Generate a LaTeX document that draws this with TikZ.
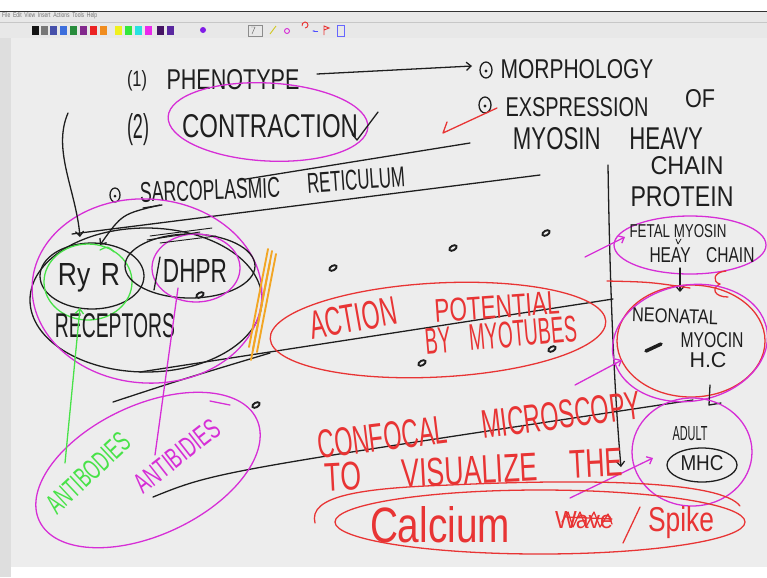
\documentclass[tikz,border=0pt]{standalone}
\usepackage{fontspec}
\setmainfont{Liberation Sans}
\usetikzlibrary{arrows.meta}

\definecolor{ink}{RGB}{30,30,30}
\definecolor{pen}{RGB}{214,46,214}
\definecolor{redpen}{RGB}{232,52,52}
\definecolor{greenpen}{RGB}{72,226,72}
\definecolor{orangepen}{RGB}{242,166,36}
\definecolor{board}{RGB}{237,237,237}
% palette swatches
\definecolor{sw1}{RGB}{20,20,20}
\definecolor{sw2}{RGB}{120,120,120}
\definecolor{sw3}{RGB}{70,80,170}
\definecolor{sw4}{RGB}{60,110,220}
\definecolor{sw5}{RGB}{40,140,60}
\definecolor{sw6}{RGB}{130,40,140}
\definecolor{sw7}{RGB}{235,35,35}
\definecolor{sw8}{RGB}{240,140,30}
\definecolor{sw9}{RGB}{240,240,30}
\definecolor{sw10}{RGB}{50,230,60}
\definecolor{sw11}{RGB}{40,225,225}
\definecolor{sw12}{RGB}{235,40,235}
\definecolor{sw13}{RGB}{70,20,100}
\definecolor{sw14}{RGB}{90,40,160}

\newlength{\pxu}
\setlength{\pxu}{0.03cm}
\newcommand{\hw}[3]{\resizebox{#1\pxu}{#2\pxu}{#3}}

\tikzset{
  hand/.style={inner sep=0pt, text=ink},
  redhand/.style={inner sep=0pt, text=redpen},
  inkline/.style={draw=ink, line width=1.1pt, line cap=round, line join=round},
  pinkline/.style={draw=pen, line width=1.1pt, line cap=round, line join=round},
  redline/.style={draw=redpen, line width=1.1pt, line cap=round, line join=round},
  greenline/.style={draw=greenpen, line width=1.1pt, line cap=round, line join=round},
  barb/.style={-{Straight Barb[length=4pt,width=7pt]}},
  speck/.style={draw=ink, line width=1.6pt},
}

\begin{document}
\begin{tikzpicture}[x=0.03cm,y=-0.03cm]
    \useasboundingbox (0,0) rectangle (767,577);

    % Window and board
    \fill[white] (0,0) rectangle (767,577);
    \fill[black!80] (0,11) rectangle (767,12);
    \fill[black!9] (0,12) rectangle (767,38);
    \draw[black!22] (0,22) -- (767,22);
    \fill[board] (11,38) rectangle (767,567);
    \fill[black!13] (0,38) rectangle (11,577);
    \node[inner sep=0pt, text=black!55, anchor=west] (menu) at (2,16) {\hw{95}{5}{File\ \ Edit\ \ View\ \ Insert\ \ Actions\ \ Tools\ \ Help}};
    \foreach \i/\x in {1/32,2/41,3/50,4/60,5/70,6/80,7/90,8/100,9/115,10/125,11/135,12/145,13/157,14/167}
        \fill[sw\i] (\x,26) rectangle ++(7,9);
    \fill[pen!60!blue] (203,30) circle (3);
    \draw[black!45] (248,25) rectangle (262,36);
    \draw[black!60] (251,27) -- (255,27) -- (252,34);
    \draw[yellow!80!black, line width=0.8pt] (270,34) -- (276,26);
    \draw[pen, line width=0.8pt] (287,31) circle (2.5);
    \draw[redpen, line width=0.8pt] (305,28) arc (90:-200:3);
    \draw[blue!70, line width=0.8pt, -{Latex[length=2pt]}] (318,31) -- (312,31);
    \draw[redpen, line width=0.8pt] (324,35) -- (324,26) -- (329,28) -- (324,30);
    \draw[blue!60] (337,25) rectangle (344,36);

    % Top list
    \node[hand] (one) at (137,81) {\hw{20}{16}{(1)}};
    \node[hand] (pheno) at (233,80) {\hw{133}{20}{PHENOTYPE}};
    \draw[inkline] (486,70) ellipse [x radius=6, y radius=8];
    \fill[ink] (486,71) circle (1.7);
    \node[hand] (morph) at (577,69) {\hw{153}{19}{MORPHOLOGY}};
    \coordinate (phenoend) at (317,74);
    \coordinate (morphin) at (472,66);
    \draw[inkline, barb] (phenoend) -- (morphin);

    \draw[inkline] (485,105) ellipse [x radius=6, y radius=8];
    \fill[ink] (485,106) circle (1.7);
    \node[hand] (expr) at (577,107) {\hw{143}{19}{EXSPRESSION}};
    \node[hand] (of) at (700,99) {\hw{30}{18}{OF}};
    \draw[redline] (497,108) -- (443,133) -- (447,122);
    \node[hand] (myhv) at (608,139) {\hw{190}{22}{MYOSIN\hspace{1.3em}HEAVY}};
    \node[hand] (chain) at (687,166) {\hw{73}{18}{CHAIN}};
    \node[hand] (prot) at (682,197) {\hw{103}{20}{PROTEIN}};

    \node[hand] (two) at (138,130) {\hw{22}{25}{(2)}};
    \node[hand] (contr) at (270,126) {\hw{176}{23}{CONTRACTION}};
    \draw[pinkline, rotate around={-3:(268,122)}] (268,122) ellipse [x radius=100, y radius=39];
    \draw[inkline] (352,134) -- (357,140) -- (378,112);

    % Sarcoplasmic reticulum
    \draw[inkline] (115,195) ellipse [x radius=5, y radius=7];
    \fill[ink] (115,196) circle (1.5);
    \node[hand, rotate=2] (sarco) at (210,190) {\hw{140}{20}{SARCOPLASMIC}};
    \node[hand, rotate=4] (retic) at (356,180) {\hw{98}{20}{RETICULUM}};
    \draw[inkline] (143,208) -- (162,205);

    % Membrane lines
    \draw[inkline] (240,180) -- (470,143);
    \draw[inkline] (72,234) -- (540,175);
    \draw[inkline] (140,372) -- (613,299);
    \draw[inkline] (113,402) .. controls (180,380) .. (270,353);
    \draw[inkline] (153,497) .. controls (215,472) .. (693,400);
    \coordinate (vtop) at (608,165);
    \coordinate (vbot) at (621,467);
    \draw[inkline, barb] (vtop) .. controls (610,300) and (615,400) .. (vbot);

    % Receptor cluster
    \draw[inkline] (146,300) ellipse [x radius=116, y radius=72];
    \draw[pinkline, rotate around={-4:(147,291)}] (147,291) ellipse [x radius=115, y radius=92];
    \draw[inkline] (92,276) ellipse [x radius=52, y radius=33];
    \draw[greenline] (88,282) ellipse [x radius=44, y radius=38];
    \draw[greenline] (100,250) .. controls (108,246) .. (114,252);
    \draw[inkline] (190,266) ellipse [x radius=65, y radius=32];
    \draw[pinkline] (196,268) ellipse [x radius=44, y radius=34];
    \draw[inkline] (160,257) -- (154,290);
    \node[hand] (ryr) at (89,278) {\hw{62}{22}{Ry\hspace{0.4em}R}};
    \node[hand] (dhpr) at (195,271) {\hw{64}{23}{DHPR}};
    \node[hand] (recep) at (115,326) {\hw{120}{24}{RECEPTORS}};
    \draw[inkline, line width=0.8pt] (147,240) -- (200,232) (150,236) -- (212,228) (160,243) -- (216,236);
    \coordinate (leftwire) at (68,113);
    \coordinate (ryrtop) at (80,237);
    \draw[inkline, barb] (leftwire) .. controls (52,150) and (76,190) .. (ryrtop);
    \coordinate (sarfoot) at (160,205);
    \coordinate (ryrtop2) at (100,245);
    \draw[inkline, barb] (sarfoot) .. controls (122,214) .. (ryrtop2);

    % Orange marks
    \foreach \a/\b in {268/249,272/251,276/254,270/262}
        \draw[orangepen, line width=1.6pt, line cap=round] (\a,\b) -- (\a-19,\b+98);

    % Antibodies
    \draw[pinkline, rotate around={25:(148,470)}] (148,470) ellipse [x radius=120, y radius=65];
    \draw[pinkline] (210,401) -- (230,405);
    \node[inner sep=0pt, text=greenpen, rotate=43] (abgreen) at (88,473) {\hw{103}{20}{ANTIBODIES}};
    \node[inner sep=0pt, text=pen, rotate=38] (abpink) at (177,456) {\hw{100}{20}{ANTIBIDIES}};
    \coordinate (greenfoot) at (65,463);
    \coordinate (ryrbot) at (80,308);
    \draw[greenline, barb] (greenfoot) -- (ryrbot);
    \coordinate (pinkfoot) at (155,455);
    \coordinate (dhprbot) at (178,288);
    \draw[pinkline] (pinkfoot) -- (dhprbot);

    % Specks
    \foreach \p in {(200,295),(333,268),(453,248),(546,233),(422,363),(552,349),(256,405)}
        \draw[speck, rotate around={30:\p}] \p ellipse [x radius=4, y radius=2.3];
    \draw[ink, line width=3pt, line cap=round] (646,351) -- (661,344);

    % Action potential
    \draw[redline, rotate around={3:(438,330)}] (438,330) ellipse [x radius=168, y radius=47];
    \node[redhand, rotate=10] (action) at (353,318) {\hw{88}{28}{ACTION}};
    \node[redhand, rotate=4] (potent) at (497,307) {\hw{125}{23}{POTENTIAL}};
    \node[redhand, rotate=5] (bymyo) at (501,335) {\hw{152}{26}{BY\hspace{1em}MYOTUBES}};

    % Myosin heavy chain stages
    \draw[pinkline] (690,245) ellipse [x radius=76, y radius=29];
    \node[hand] (fetal) at (678,231) {\hw{97}{13}{FETAL\ MYOSIN}};
    \draw[inkline, line width=0.7pt] (676,239) -- (678,244) -- (681,239);
    \node[hand] (heay) at (702,255) {\hw{105}{15}{HEAY\hspace{1em}CHAIN}};
    \coordinate (fetalin) at (625,237);
    \coordinate (fetalarm) at (585,257);
    \draw[pinkline, barb] (fetalarm) -- (fetalin);
    \coordinate (fetalbot) at (680,268);
    \coordinate (neotop) at (680,292);
    \draw[inkline, barb] (fetalbot) -- (neotop);
    \draw[redline] (726,271) .. controls (713,272) and (712,282) .. (720,284) .. controls (711,288) and (714,297) .. (728,297);

    \draw[redline] (691,341) ellipse [x radius=74, y radius=56];
    \draw[redline] (607,281) .. controls (650,282) .. (690,288);
    \draw[pinkline, rotate around={10:(690,343)}] (690,343) ellipse [x radius=78, y radius=58];
    \node[hand, rotate=-2] (neo) at (675,316) {\hw{86}{14}{NEONATAL}};
    \node[hand] (myocin) at (712,340) {\hw{63}{15}{MYOCIN}};
    \node[hand] (hc) at (708,360) {\hw{37}{15}{H.C}};
    \coordinate (neoin) at (622,360);
    \coordinate (neoarm) at (575,385);
    \draw[pinkline, barb] (neoarm) -- (neoin);
    \coordinate (neobot) at (710,385);
    \coordinate (adulttop) at (709,405);
    \draw[inkline] (neobot) -- (adulttop) -- (721,403);

    \draw[pinkline] (692,452) ellipse [x radius=60, y radius=54];
    \node[hand] (adult) at (690,434) {\hw{35}{14}{ADULT}};
    \draw[inkline] (702,465) ellipse [x radius=35, y radius=17];
    \node[hand] (mhc) at (702,463) {\hw{43}{15}{MHC}};
    \coordinate (adultin) at (653,458);
    \coordinate (adultarm) at (570,498);
    \draw[pinkline, barb] (adultarm) -- (adultin);

    % Confocal microscopy
    \node[redhand, rotate=7] (confocal) at (479,425) {\hw{325}{28}{CONFOCAL\hspace{1.5em}MICROSCOPY}};
    \node[redhand, rotate=3] (visual) at (474,470) {\hw{298}{28}{TO\hspace{1.5em}VISUALIZE\hspace{1.2em}THE}};
    \draw[redline] (315,523) .. controls (308,496) and (360,488) .. (450,485) .. controls (600,478) and (722,482) .. (740,506);
    \draw[redline] (540,522) ellipse [x radius=205, y radius=32];
    \node[redhand] (calcium) at (440,525) {\hw{140}{36}{Calcium}};
    \node[redhand] (wave) at (584,520) {\hw{58}{17}{Wave}};
    \draw[redline] (562,522) -- (568,512) -- (573,527) -- (580,512) -- (586,527) -- (594,512) -- (600,527) -- (608,514) -- (612,524);
    \draw[redline] (566,517) -- (612,519);
    \draw[redline] (640,507) -- (623,543);
    \node[redhand] (spike) at (681,523) {\hw{66}{25}{Spike}};
\end{tikzpicture}
\end{document}
